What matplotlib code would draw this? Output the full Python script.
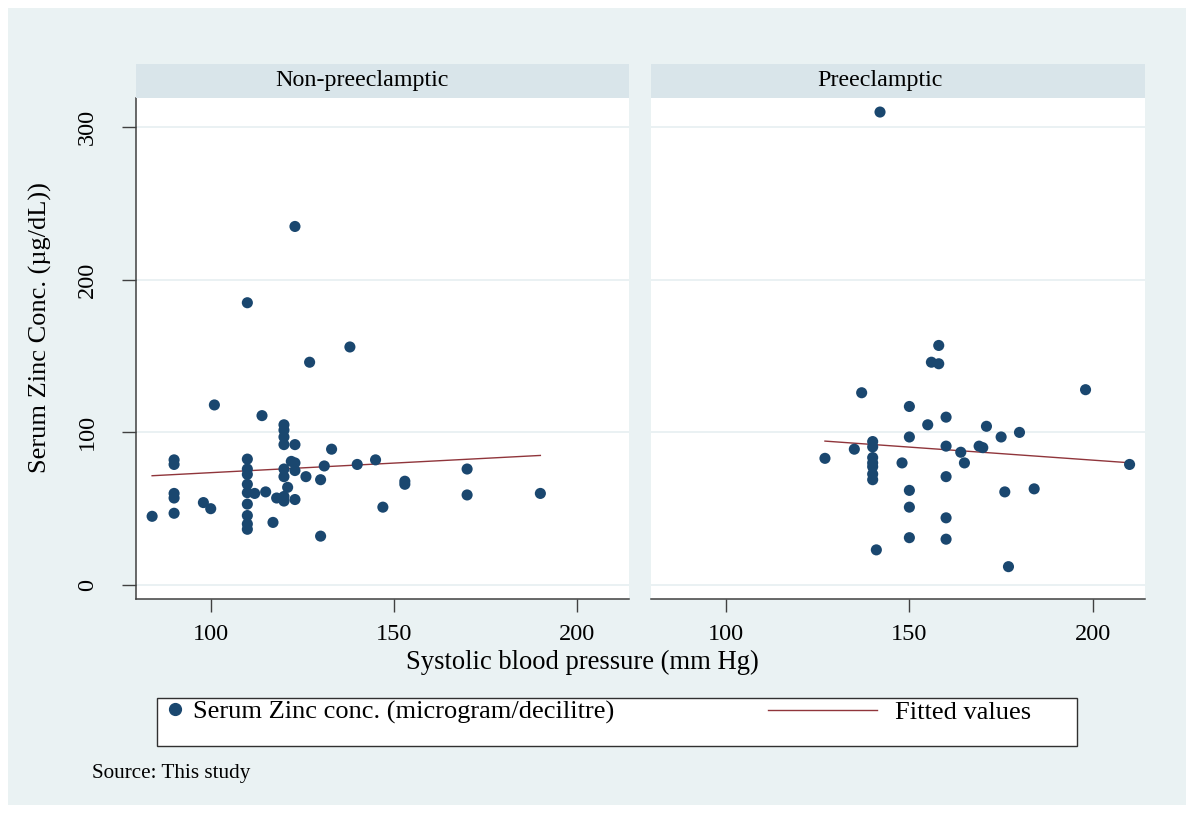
import matplotlib.pyplot as plt
from matplotlib.lines import Line2D
from matplotlib.patches import Rectangle

# systolic BP (mm Hg) and serum zinc (ug/dL)
non_sbp = [84, 90, 90, 90, 90, 90, 98, 100, 101,
           110, 110, 110, 110, 110, 110, 110, 110, 110, 110,
           112, 114, 115, 117, 118,
           120, 120, 120, 120, 120, 120, 120, 120,
           121, 122, 123, 123, 123, 123, 123, 126, 127, 130, 130,
           131, 133, 138, 140, 145, 147, 153, 153, 170, 170, 190]
non_zinc = [45, 82, 79, 60, 57, 47, 54, 50, 118,
            185, 82.5, 76, 72.5, 66, 60.5, 53, 45.5, 40, 36.5,
            60, 111, 61, 41, 57,
            105, 101.5, 97, 92, 76, 71, 58, 55,
            64, 81, 235, 92, 80, 75, 56, 71, 146, 69, 32,
            78, 89, 156, 79, 82, 51, 68, 66, 76, 59, 60]

pre_sbp = [127, 135, 137, 140, 140, 140, 140, 140, 140, 140,
           141, 142, 148, 150, 150, 150, 150, 150, 155, 156, 158, 158,
           160, 160, 160, 160, 160, 164, 165, 169, 170, 171,
           175, 176, 177, 180, 184, 198, 210]
pre_zinc = [83, 89, 126, 94, 90.5, 83.5, 80, 77.5, 72.7, 69,
            23, 310, 80, 117, 97, 62, 51, 31, 105, 146, 157, 145,
            110, 91, 71, 44, 30, 87, 80, 91, 90, 104,
            97, 61, 12, 100, 63, 128, 79]

# linear fit ("Fitted values") end points per group
non_fit_x = [84, 190]
non_fit_y = [71.6, 84.9]
pre_fit_x = [127, 210]
pre_fit_y = [94.3, 80.1]

groups = ["Non-preeclamptic", "Preeclamptic"]
x_ticks = [100, 150, 200]
y_ticks = [0, 100, 200, 300]

NAVY = "#1A476F"
MAROON = "#90353B"
BG = "#EAF2F3"
STRIP = "#D9E5EA"
GRID = "#E6EFF1"
AXC = "#404040"

plt.rcParams["font.family"] = ["Liberation Serif", "DejaVu Serif"]

W, H = 1194, 813
fig = plt.figure(figsize=(W / 100, H / 100), dpi=100, facecolor="white")
fig.patches.append(Rectangle((8 / W, 8 / H), 1178 / W, 797 / H,
                             transform=fig.transFigure, facecolor=BG,
                             edgecolor="none", zorder=-10))


def fx(px):
    return px / W


def fy(py):
    return 1 - py / H


panel_left = [136, 651]
panel_right = [629, 1145]
top, bottom = 97.7, 599.3
strip_top = 64
label_centers = [362, 880]

data = [(non_sbp, non_zinc, non_fit_x, non_fit_y),
        (pre_sbp, pre_zinc, pre_fit_x, pre_fit_y)]
for i, (xs, ys, fxs, fys) in enumerate(data):
    x0, x1 = panel_left[i], panel_right[i]
    ax = fig.add_axes([fx(x0), fy(bottom), (x1 - x0) / W, (bottom - top) / H])
    ax.set_facecolor("white")
    ax.set_xlim(79.6, 214.2)
    ax.set_ylim(-9.4, 319.4)
    for g in y_ticks:
        ax.axhline(g, color=GRID, lw=1.2, zorder=0)

    ax.scatter(xs, ys, s=64, color=NAVY, edgecolors="none", zorder=3)
    ax.plot(fxs, fys, color=MAROON, lw=1.0, zorder=2)

    for s in ["top", "right"]:
        ax.spines[s].set_visible(False)
    ax.spines["bottom"].set_color(AXC)
    ax.spines["bottom"].set_linewidth(1.1)
    ax.set_xticks(x_ticks)
    ax.tick_params(axis="x", length=9, width=1.0, color=AXC,
                   labelsize=17.5, pad=9)
    if i == 0:
        ax.spines["left"].set_color(AXC)
        ax.spines["left"].set_linewidth(1.1)
        ax.set_yticks(y_ticks)
        ax.set_yticklabels([str(t) for t in y_ticks], rotation=90, va="center")
        ax.tick_params(axis="y", length=10, width=1.0, color=AXC,
                       labelsize=17.5, pad=17.5)
    else:
        ax.spines["left"].set_visible(False)
        ax.set_yticks([])

    # strip with panel title
    sax = fig.add_axes([fx(x0), fy(top), (x1 - x0) / W, (top - strip_top) / H])
    sax.set_facecolor(STRIP)
    sax.set_xticks([])
    sax.set_yticks([])
    for s in sax.spines.values():
        s.set_visible(False)
    fig.text(fx(label_centers[i]), fy((top + strip_top) / 2), groups[i],
             ha="center", va="center", fontsize=17.3)

fig.text(fx(582), fy(662), "Systolic blood pressure (mm Hg)",
         ha="center", va="center", fontsize=19.2)
fig.text(fx(40), fy(328), "Serum Zinc Conc. (\u00b5g/dL))", rotation=90,
         ha="center", va="center", fontsize=19)

# legend box
fig.patches.append(Rectangle((fx(157), fy(746)), 920 / W, 48.5 / H,
                             transform=fig.transFigure, facecolor="white",
                             edgecolor="#303030", lw=1.0, zorder=5))
h_dot = Line2D([], [], marker="o", ls="none", color=NAVY, markersize=8.5)
h_fit = Line2D([], [], color=MAROON, lw=1.0)
leg1 = fig.legend([h_dot], ["Serum Zinc conc. (microgram/decilitre)"],
                  loc="center left", bbox_to_anchor=(fx(165.8), fy(712)),
                  frameon=False, fontsize=19, handlelength=0.7,
                  handletextpad=0.33, borderpad=0, borderaxespad=0)
leg1.set_zorder(6)
leg2 = fig.legend([h_fit], ["Fitted values"],
                  loc="center left", bbox_to_anchor=(fx(768), fy(712)),
                  frameon=False, fontsize=19, handlelength=4.13,
                  handletextpad=0.68, borderpad=0, borderaxespad=0)
leg2.set_zorder(6)

fig.text(fx(92), fy(773), "Source: This study", ha="left", va="center",
         fontsize=15.2)

fig.savefig("out.png", dpi=100, facecolor="white")
